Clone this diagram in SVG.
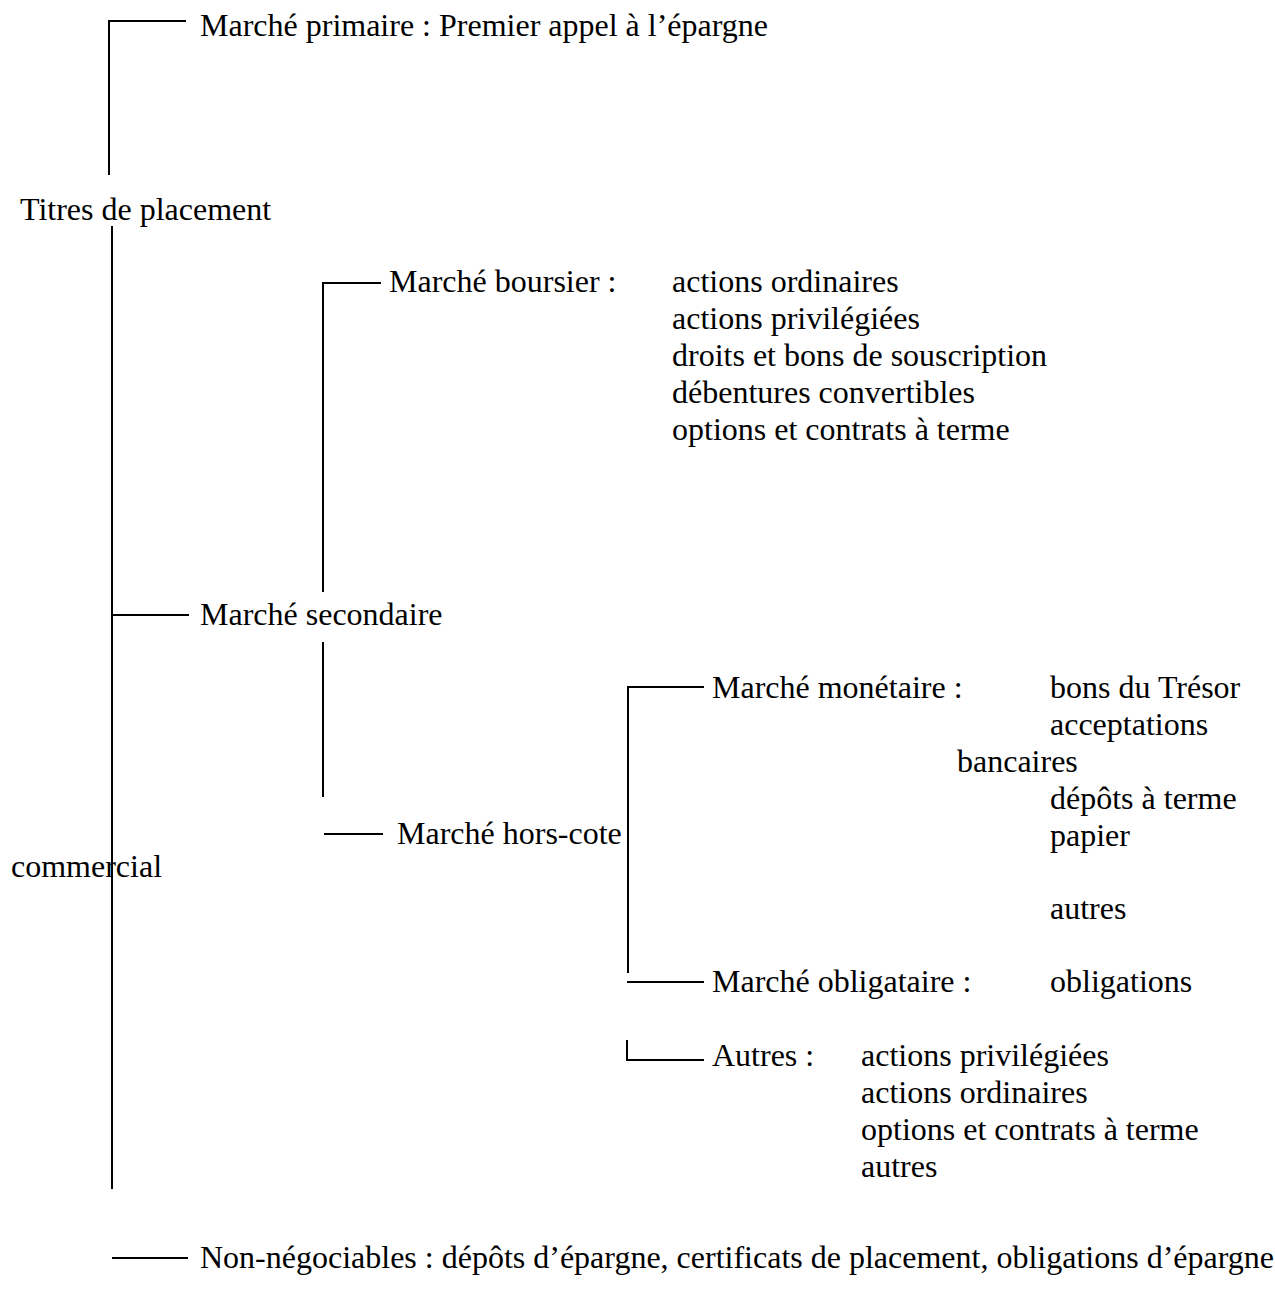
<svg xmlns="http://www.w3.org/2000/svg" width="1275" height="1293" viewBox="0 0 1275 1293">
<style>
text{font-family:"Liberation Serif","Times New Roman",serif;font-size:32px;fill:#000}
.c line,.c path{stroke:#000;stroke-width:2;fill:none}
</style>
<rect width="1275" height="1293" fill="#fff"/>
<g class="c" id="connectors">
<path d="M186 21H109V175"/>
<line x1="112" y1="226" x2="112" y2="1189"/>
<line x1="112" y1="615" x2="189" y2="615"/>
<path d="M381 283H323V592"/>
<line x1="323" y1="642" x2="323" y2="797"/>
<line x1="324" y1="834" x2="383" y2="834"/>
<path d="M704 687H628V973"/>
<line x1="627" y1="982" x2="704" y2="982"/>
<path d="M627 1040V1060H704"/>
<line x1="112" y1="1258" x2="188" y2="1258"/>
</g>
<g id="n-primaire"><text x="200" y="36">Marché primaire : Premier appel à l’épargne</text></g>
<g id="n-titres"><text x="20" y="220">Titres de placement</text></g>
<g id="n-commercial"><text x="11" y="877">commercial</text></g>
<g id="n-boursier"><text x="389" y="292">Marché boursier :</text>
<text x="672" y="292">actions ordinaires</text>
<text x="672" y="329">actions privilégiées</text>
<text x="672" y="366">droits et bons de souscription</text>
<text x="672" y="403">débentures convertibles</text>
<text x="672" y="440">options et contrats à terme</text></g>
<g id="n-secondaire"><text x="200" y="625">Marché secondaire</text></g>
<g id="n-horscote"><text x="397" y="844">Marché hors-cote</text></g>
<g id="n-monetaire"><text x="712" y="698">Marché monétaire :</text>
<text x="1050" y="698">bons du Trésor</text>
<text x="1050" y="735">acceptations</text>
<text x="957" y="772">bancaires</text>
<text x="1050" y="809">dépôts à terme</text>
<text x="1050" y="846">papier</text>
<text x="1050" y="919">autres</text></g>
<g id="n-obligataire"><text x="712" y="992">Marché obligataire :</text>
<text x="1050" y="992">obligations</text></g>
<g id="n-autres"><text x="712" y="1066">Autres :</text>
<text x="861" y="1066">actions privilégiées</text>
<text x="861" y="1103">actions ordinaires</text>
<text x="861" y="1140">options et contrats à terme</text>
<text x="861" y="1177">autres</text></g>
<g id="n-nonneg"><text x="200" y="1268">Non-négociables : dépôts d’épargne, certificats de placement, obligations d’épargne</text></g>
</svg>
